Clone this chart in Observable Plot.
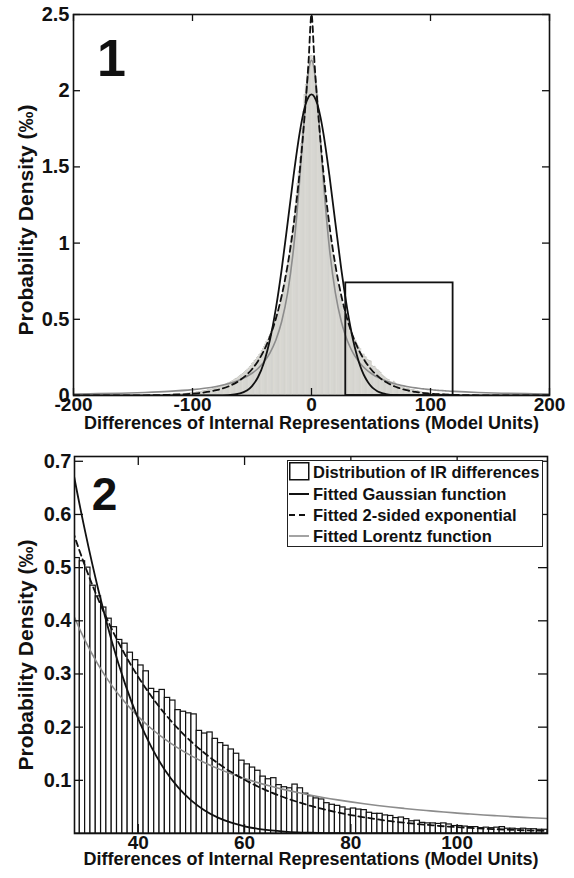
<!DOCTYPE html>
<html><head><meta charset="utf-8">
<script src="https://cdn.jsdelivr.net/npm/d3@7"></script>
<script src="https://cdn.jsdelivr.net/npm/@observablehq/plot@0.6"></script>
<style>
body{margin:0;background:#fff;}
#wrap{position:relative;width:574px;height:878px;font-family:"Liberation Sans",Arial,sans-serif;}
#p1{position:absolute;left:0;top:0;}
#p2{position:absolute;left:0;top:440px;}
#legend{position:absolute;left:287px;top:460px;width:256px;height:87px;border:1.5px solid #222;background:#fff;box-sizing:border-box;font-weight:bold;font-size:16.5px;color:#111;}
.row{position:absolute;left:25px;white-space:nowrap;line-height:20px;}
.sym{position:absolute;left:1px;}
</style>
</head><body>
<div id="wrap">
  <div id="p1"></div>
  <div id="p2"></div>
  <div id="legend">
    <svg class="sym" style="top:1px" width="22" height="20"><rect x="0.75" y="0.75" width="19" height="17" fill="#fff" stroke="#111" stroke-width="1.5"/></svg>
    <div class="row" style="top:1px">Distribution of IR differences</div>
    <svg class="sym" style="top:23px" width="22" height="20"><line x1="0" y1="10" x2="20" y2="10" stroke="#111" stroke-width="2"/></svg>
    <div class="row" style="top:23px">Fitted Gaussian function</div>
    <svg class="sym" style="top:44px" width="22" height="20"><line x1="0" y1="10" x2="20" y2="10" stroke="#111" stroke-width="2" stroke-dasharray="6,4"/></svg>
    <div class="row" style="top:44px">Fitted 2-sided exponential</div>
    <svg class="sym" style="top:65px" width="22" height="20"><line x1="0" y1="10" x2="20" y2="10" stroke="#8c8c8c" stroke-width="1.6"/></svg>
    <div class="row" style="top:65px">Fitted Lorentz function</div>
  </div>
</div>
<script>
// ---- data ----
const xTitle = "Differences of Internal Representations (Model Units)";
const yTitle = "Probability Density (‰)";
const panel1XTicks = [-200, -100, 0, 100, 200];
const panel1YTicks = [0, 0.5, 1, 1.5, 2, 2.5];
const panel2XTicks = [40, 60, 80, 100];
const panel2YTicks = [0.1, 0.2, 0.3, 0.4, 0.5, 0.6, 0.7];
const panel1XDomain = [-200, 200];
const panel1YDomain = [0, 2.5];
const panel2XDomain = [28, 117];
const panel2YDomain = [0, 0.709];
const zoomBoxX = [28.8, 119];
const zoomBoxY = [0, 0.739];

// histogram, positive side: bins [k, k+1) for k = 0..119
const histPos = [
 2.23,2.21,2.16,2.10,2.04,1.97,1.86,1.75,1.65,1.56,
 1.47,1.39,1.31,1.24,1.17,1.10,1.04,0.98,0.92,0.87,
 0.82,0.78,0.73,0.69,0.65,0.62,0.58,0.55,
 0.518,0.512,0.500,0.466,0.446,0.425,0.404,0.388,0.364,0.357,
 0.340,0.326,0.316,0.305,0.272,0.266,0.270,0.255,0.250,0.232,
 0.229,0.226,0.224,0.193,0.188,0.190,0.178,0.170,0.165,0.158,
 0.150,0.137,0.130,0.124,0.118,0.107,0.102,0.104,0.091,0.087,
 0.085,0.092,0.085,0.075,0.070,0.066,0.064,0.057,0.054,0.052,
 0.049,0.045,0.047,0.045,0.044,0.039,0.037,0.037,0.034,0.033,
 0.029,0.030,0.027,0.023,0.024,0.020,0.019,0.019,0.018,0.019,
 0.017,0.014,0.014,0.013,0.012,0.012,0.010,0.011,0.010,0.011,
 0.012,0.009,0.009,0.008,0.009,0.008,0.008,0.007,0.007,
 0.007,0.006,0.006
];
// histogram, negative side: bins from [-120,-119) to [-1,0)
const histNeg = [
 0.006,0.007,0.007,0.007,0.008,0.008,0.008,0.009,0.009,0.010,
 0.010,0.011,0.011,0.012,0.012,0.013,0.014,0.014,0.015,0.016,
 0.017,0.018,0.019,0.020,0.021,0.022,0.024,0.025,0.026,0.028,
 0.029,0.031,0.033,0.034,0.036,0.038,0.040,0.042,0.045,0.047,
 0.049,0.052,0.054,0.057,0.060,0.063,0.066,0.070,0.073,0.077,
 0.081,0.085,0.089,0.093,0.097,0.102,0.107,0.112,0.118,0.124,
 0.130,0.136,0.142,0.149,0.156,0.163,0.170,0.178,0.186,0.195,
 0.205,0.215,0.225,0.235,0.245,0.255,0.265,0.275,0.290,0.305,
 0.320,0.335,0.350,0.365,0.385,0.400,0.420,0.440,0.460,0.490,
 0.510,0.520,0.550,0.580,0.620,0.650,0.690,0.730,0.780,0.820,
 0.870,0.920,0.980,1.040,1.100,1.170,1.240,1.310,1.390,1.470,
 1.560,1.650,1.750,1.860,1.970,2.040,2.100,2.160,2.210,2.230
];

// fitted curves, sampled
const curveX = [-200,-180,-160,-140,-120,-100,-90,-80,-70,-60,-50,-45,-40,-35,-30,-25,-20,-15,-10,-7.5,-5,-2.5,
 0,2.5,5,7.5,10,15,20,25,
 27.5,30,32.5,35,37.5,40,42.5,45,47.5,50,52.5,55,57.5,60,62.5,65,67.5,70,72.5,75,77.5,80,82.5,85,87.5,90,
 92.5,95,97.5,100,102.5,105,107.5,110,112.5,115,117.5,120,140,160,180,200];
const gaussY = [0,0,0,0,0,0,0,0.0003,0.0022,0.0135,0.0619,0.1196,0.2155,0.3622,0.5681,0.8315,1.1355,1.4469,1.7204,1.8279,1.9088,1.9590,
 1.976,1.9590,1.9088,1.8279,1.7204,1.4469,1.1355,0.8315,
 0.6933,0.5681,0.4575,0.3622,0.2818,0.2155,0.1619,0.1196,0.0868,0.0619,0.0434,0.0299,0.0203,0.0135,0.0088,0.0057,0.0036,0.0022,0.0014,0.0008,0.0005,0.0003,0.0002,0.0001,0,0,
 0,0,0,0,0,0,0,0,0,0,0,0,0,0,0,0];
const expY = [0.0001,0.0002,0.0005,0.0014,0.0041,0.0119,0.0203,0.0347,0.0592,0.1011,0.1725,0.2253,0.2944,0.3846,0.5025,0.6566,0.8579,1.1209,1.4645,1.6741,1.9135,2.1872,
 2.5,2.1872,1.9135,1.6741,1.4645,1.1209,0.8579,0.6566,
 0.5744,0.5025,0.4396,0.3846,0.3365,0.2944,0.2576,0.2253,0.1971,0.1725,0.1509,0.1320,0.1155,0.1011,0.0884,0.0774,0.0677,0.0592,0.0518,0.0453,0.0397,0.0347,0.0304,0.0266,0.0232,0.0203,
 0.0178,0.0156,0.0136,0.0119,0.0104,0.0091,0.0080,0.0070,0.0061,0.0053,0.0047,0.0041,0.0014,0.0005,0.0002,0.0001];
const lorentzY = [0.0097,0.0120,0.0152,0.0198,0.0268,0.0384,0.0472,0.0594,0.0770,0.1034,0.1459,0.1774,0.2198,0.2786,0.3626,0.4868,0.6765,0.9705,1.4075,1.6708,1.9285,2.1252,
 2.2,2.1252,1.9285,1.6708,1.4075,0.9705,0.6765,0.4868,
 0.4184,0.3626,0.3167,0.2786,0.2467,0.2198,0.1970,0.1774,0.1605,0.1459,0.1332,0.1220,0.1122,0.1034,0.0957,0.0887,0.0825,0.0770,0.0719,0.0673,0.0632,0.0594,0.0559,0.0528,0.0499,0.0472,
 0.0447,0.0425,0.0403,0.0384,0.0366,0.0349,0.0333,0.0318,0.0304,0.0292,0.0279,0.0268,0.0198,0.0152,0.0120,0.0097];

// ---- build tables ----
const bins = [];
histNeg.forEach((v, i) => bins.push({x1: i - histNeg.length, x2: i - histNeg.length + 1, y: v}));
histPos.forEach((v, i) => bins.push({x1: i, x2: i + 1, y: v}));
const bins2 = bins.filter(d => d.x1 >= 28 && d.x1 < 117);
const curves = curveX.map((x, i) => ({x, g: gaussY[i], e: expY[i], l: lorentzY[i]}));
const box = [{x1: zoomBoxX[0], x2: zoomBoxX[1], y1: zoomBoxY[0], y2: zoomBoxY[1]}];

const INK = "#111";
const fontStyle = {fontFamily: "'Liberation Sans', Arial, sans-serif", fontWeight: "bold", fontSize: "19px", color: INK, background: "transparent", overflow: "visible"};

function inwardTicks(xt, yt, innerW, innerH, len) {
  return [
    Plot.tickX(xt, {x: d => d, insetTop: innerH - len, stroke: INK, strokeWidth: 1.3}),
    Plot.tickX(xt, {x: d => d, insetBottom: innerH - len, stroke: INK, strokeWidth: 1.3}),
    Plot.tickY(yt, {y: d => d, insetRight: innerW - len, stroke: INK, strokeWidth: 1.3}),
    Plot.tickY(yt, {y: d => d, insetLeft: innerW - len, stroke: INK, strokeWidth: 1.3})
  ];
}

// ---- panel 1 ----
{
  const W = 574, H = 440, mt = 14, mb = 45, ml = 73, mr = 25;
  const iw = W - ml - mr, ih = H - mt - mb;
  const chart = Plot.plot({
    width: W, height: H, marginTop: mt, marginBottom: mb, marginLeft: ml, marginRight: mr,
    style: fontStyle,
    x: {domain: panel1XDomain},
    y: {domain: panel1YDomain},
    marks: [
      Plot.rectY(bins, {x1: "x1", x2: "x2", y: "y", fill: "#dfded9", stroke: "#c6c6c1", strokeWidth: 0.35, clip: true}),
      Plot.line(curves, {x: "x", y: "l", stroke: "#8c8c8c", strokeWidth: 1.6, curve: "monotone-x", clip: true}),
      Plot.line(curves, {x: "x", y: "e", stroke: INK, strokeWidth: 1.8, strokeDasharray: "6,4", curve: "monotone-x", clip: true}),
      Plot.line(curves, {x: "x", y: "g", stroke: INK, strokeWidth: 1.8, curve: "monotone-x", clip: true}),
      Plot.rect(box, {x1: "x1", x2: "x2", y1: "y1", y2: "y2", fill: "none", stroke: INK, strokeWidth: 1.8}),
      ...inwardTicks(panel1XTicks, panel1YTicks, iw, ih, 7),
      Plot.frame({stroke: INK, strokeWidth: 1.6}),
      Plot.axisX(panel1XTicks, {tickSize: 0, tickPadding: 2, tickFormat: d => String(d), label: null, fontSize: 19}),
      Plot.axisY(panel1YTicks, {tickSize: 0, tickPadding: 4, tickFormat: d => String(d), label: null, fontSize: 20}),
      Plot.text([xTitle], {text: d => d, frameAnchor: "bottom", dy: 33, fontSize: 18, fontWeight: "bold"}),
      Plot.text([yTitle], {text: d => d, frameAnchor: "left", rotate: -90, textAnchor: "middle", dx: -47, dy: 15, fontSize: 21, fontWeight: "bold"}),
      Plot.text(["1"], {text: d => d, frameAnchor: "top-left", dx: 38, dy: 45, fontSize: 52, fontWeight: "bold", textAnchor: "middle", lineAnchor: "middle"})
    ]
  });
  document.getElementById("p1").appendChild(chart);
}

// ---- panel 2 ----
{
  const W = 574, H = 438, mt = 16, mb = 45, ml = 74, mr = 27;
  const iw = W - ml - mr, ih = H - mt - mb;
  const chart = Plot.plot({
    width: W, height: H, marginTop: mt, marginBottom: mb, marginLeft: ml, marginRight: mr,
    style: fontStyle,
    x: {domain: panel2XDomain},
    y: {domain: panel2YDomain},
    marks: [
      Plot.rectY(bins2, {x1: "x1", x2: "x2", y: "y", fill: "#fff", stroke: INK, strokeWidth: 1.2, clip: true}),
      Plot.line(curves, {x: "x", y: "l", stroke: "#8c8c8c", strokeWidth: 1.6, curve: "monotone-x", clip: true}),
      Plot.line(curves, {x: "x", y: "g", stroke: INK, strokeWidth: 1.8, curve: "monotone-x", clip: true}),
      Plot.line(curves, {x: "x", y: "e", stroke: INK, strokeWidth: 1.8, strokeDasharray: "6,4", curve: "monotone-x", clip: true}),
      ...inwardTicks(panel2XTicks, panel2YTicks, iw, ih, 9),
      Plot.frame({stroke: INK, strokeWidth: 1.6}),
      Plot.axisX(panel2XTicks, {tickSize: 0, tickPadding: 2, tickFormat: d => String(d), label: null, fontSize: 19}),
      Plot.axisY(panel2YTicks, {tickSize: 0, tickPadding: 3, tickFormat: d => String(d), label: null, fontSize: 20}),
      Plot.text([xTitle], {text: d => d, frameAnchor: "bottom", dy: 31, fontSize: 18, fontWeight: "bold"}),
      Plot.text([yTitle], {text: d => d, frameAnchor: "left", rotate: -90, textAnchor: "middle", dx: -48, dy: 10, fontSize: 21, fontWeight: "bold"}),
      Plot.text(["2"], {text: d => d, frameAnchor: "top-left", dx: 30, dy: 39, fontSize: 46, fontWeight: "bold", textAnchor: "middle", lineAnchor: "middle"})
    ]
  });
  document.getElementById("p2").appendChild(chart);
}
</script>
</body></html>
